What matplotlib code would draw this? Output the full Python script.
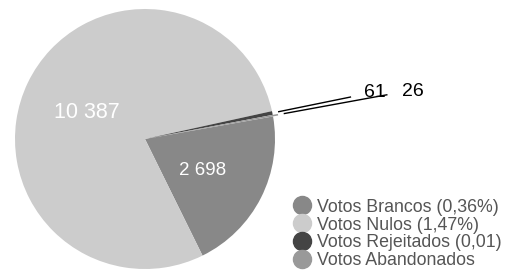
import numpy as np
import matplotlib.pyplot as plt
from matplotlib.lines import Line2D

# Vote counts shown on the pie
categories = ['Votos Brancos (0,36%)', 'Votos Nulos (1,47%)',
              'Votos Rejeitados (0,01)', 'Votos Abandonados']
values = [2698, 10387, 61, 26]
value_labels = ['2 698', '10 387', '61', '26']
colors = ['#888888', '#cccccc', '#444444', '#999999']

plt.rcParams['font.family'] = ['Liberation Sans', 'DejaVu Sans']

fig = plt.figure(figsize=(5.1, 2.75), dpi=100)
ax = fig.add_axes([15 / 510, 6 / 275, 260 / 510, 260 / 275])

wedges, _ = ax.pie(values, colors=colors, startangle=10, counterclock=False,
                   explode=[0, 0, 0, 0.04],
                   wedgeprops=dict(linewidth=0))
ax.set_xlim(-1, 1)
ax.set_ylim(-1, 1)
ax.set_aspect('equal')

# labels inside the two big slices
inside = {0: ((0.445, -0.245), 13.5), 1: ((-0.45, 0.2), 15.5)}
for i, ((x, y), fs) in inside.items():
    ax.text(x, y, value_labels[i], color='white', fontsize=fs,
            ha='center', va='center')

# leader lines for the two tiny slices
leader = {2: (1.05, 1.58, (1.765, 0.36)), 3: (1.09, 1.86, (2.06, 0.365))}
for i, (r0, xend, txt) in leader.items():
    w = wedges[i]
    mid = np.deg2rad((w.theta1 + w.theta2) / 2)
    x0, y0 = r0 * np.cos(mid), r0 * np.sin(mid)
    slope = np.tan(mid)
    ax.plot([x0, xend], [y0, y0 + (xend - x0) * slope], color='black',
            linewidth=1.0, clip_on=False)
    ax.text(txt[0], txt[1], value_labels[i], fontsize=14, color='black',
            ha='center', va='center', clip_on=False)

handles = [Line2D([], [], marker='o', linestyle='', markersize=13,
                  markerfacecolor=c, markeredgecolor=c) for c in colors]
fig.legend(handles, categories, loc='upper left', bbox_to_anchor=(0.553, 0.31),
           frameon=False, labelspacing=0.05, handletextpad=0.25,
           borderpad=0, handlelength=1.2, labelcolor='#555555',
           prop=dict(size=12.8))

fig.savefig('out.png', dpi=100)
